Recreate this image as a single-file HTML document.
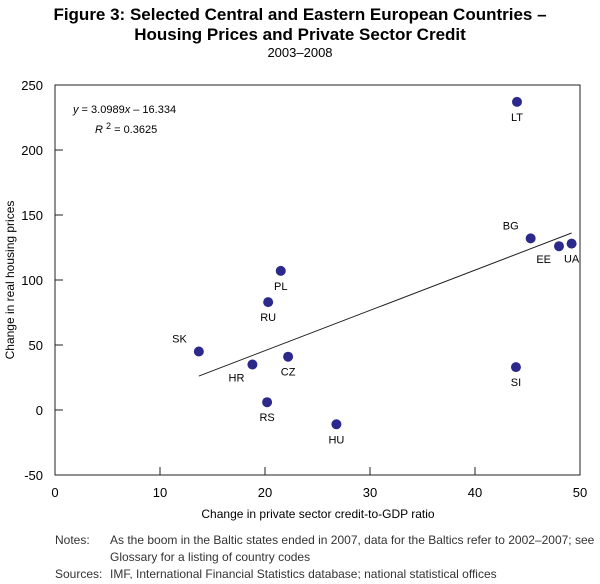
<!DOCTYPE html>
<html><head><meta charset="utf-8"><style>
body{margin:0;background:#fff;width:600px;height:579px;overflow:hidden;font-family:"Liberation Sans",Arial,sans-serif}
svg text{font-family:"Liberation Sans",Arial,sans-serif}
</style></head><body>
<svg id="c" width="600" height="579" xmlns="http://www.w3.org/2000/svg">
<text x="300" y="20" text-anchor="middle" font-size="17" font-weight="bold">Figure 3: Selected Central and Eastern European Countries –</text>
<text x="300" y="40" text-anchor="middle" font-size="17" font-weight="bold">Housing Prices and Private Sector Credit</text>
<text x="300" y="57" text-anchor="middle" font-size="13">2003–2008</text>
<rect x="55" y="85" width="525" height="390" fill="none" stroke="#222" stroke-width="1"/>
<g id="axes"></g>
<g id="marks"></g>
<text x="73" y="113" font-size="11"><tspan font-style="italic">y</tspan> = 3.0989<tspan font-style="italic">x</tspan> – 16.334</text>
<text x="95" y="133" font-size="11"><tspan font-style="italic">R</tspan> <tspan dy="-4" font-size="9">2</tspan><tspan dy="4"> = 0.3625</tspan></text>
<text x="14" y="280" transform="rotate(-90 14 280)" text-anchor="middle" font-size="12">Change in real housing prices</text>
<text x="318" y="518" text-anchor="middle" font-size="12">Change in private sector credit-to-GDP ratio</text>
<g font-size="12" fill="#333" font-family="Liberation Sans, sans-serif">
<text x="55" y="544">Notes:</text>
<text x="110" y="544">As the boom in the Baltic states ended in 2007, data for the Baltics refer to 2002–2007; see</text>
<text x="110" y="561">Glossary for a listing of country codes</text>
<text x="55" y="578">Sources:</text>
<text x="110" y="578">IMF, International Financial Statistics database; national statistical offices</text>
</g>
</svg>
<script>
const countries=["LT","BG","EE","UA","SI","PL","RU","SK","HR","CZ","RS","HU"];
const creditChange=[44,45.3,48,49.2,43.9,21.5,20.3,13.7,18.8,22.2,20.2,26.8];
const priceChange=[237,132,126,128,33,107,83,45,35,41,6,-11];
const labelPos=["b","al","bl","b","b","b","b","al","bl","b","b","b"];
const xTicks=[0,10,20,30,40,50];
const yTicks=[-50,0,50,100,150,200,250];
const slope=3.0989, intercept=-16.334;
const X=v=>55+(v-0)/50*525;
const Y=v=>475-(v+50)/300*390;
const NS="http://www.w3.org/2000/svg";
function mk(t,a,p){const e=document.createElementNS(NS,t);for(const k in a)e.setAttribute(k,a[k]);p.appendChild(e);return e;}
const ax=document.getElementById('axes'),mg=document.getElementById('marks');
xTicks.forEach(v=>{
 const l=mk('line',{x1:X(v),x2:X(v),y1:475,y2:467,stroke:'#222'},ax);
 
 
 const t=mk('text',{x:X(v),y:497,'text-anchor':'middle','font-size':13},ax);t.textContent=v;
 
 
});
yTicks.forEach(v=>{
 const l=mk('line',{x1:55,x2:63,y1:Y(v),y2:Y(v),stroke:'#222'},ax);
 
 
 const t=mk('text',{x:43,y:Y(v)+5,'text-anchor':'end','font-size':13},ax);t.textContent=v;
 
 
});
const xmin=Math.min(...creditChange),xmax=Math.max(...creditChange);
const tl=mk('line',{x1:X(xmin),y1:Y(slope*xmin+intercept),x2:X(xmax),y2:Y(slope*xmax+intercept),stroke:'#222','stroke-width':1},mg);


countries.forEach((c,i)=>{
 const cx=X(creditChange[i]),cy=Y(priceChange[i]);
 const d=mk('circle',{cx:cx,cy:cy,r:5,fill:'#2b2a8c'},mg);
 
 
 let lx=cx,ly=cy+19,anc='middle';
 if(labelPos[i]==='al'){lx=cx-12;ly=cy-9;anc='end';}
 if(labelPos[i]==='bl'){lx=cx-8;ly=cy+17;anc='end';}
 const t=mk('text',{x:lx,y:ly,'text-anchor':anc,'font-size':11},mg);t.textContent=c;
 
 
});
</script>
</body></html>
